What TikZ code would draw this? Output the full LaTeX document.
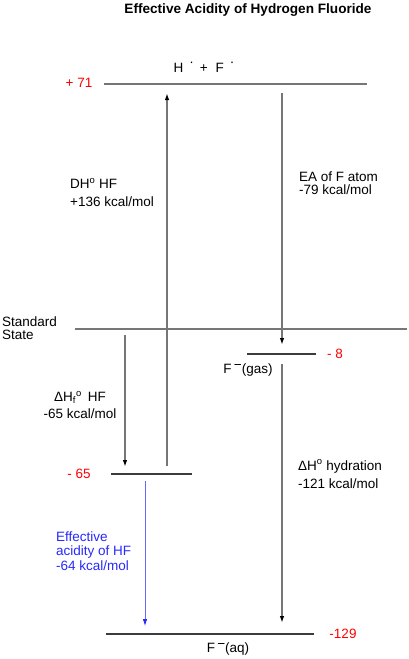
\documentclass[tikz,border=0pt]{standalone}
\usepackage{fontspec}
\setmainfont{Liberation Sans}
\usetikzlibrary{arrows.meta}
\definecolor{lvlgray}{RGB}{118,118,118}
\definecolor{lvldark}{RGB}{60,60,60}
\definecolor{effblue}{RGB}{40,40,255}

\begin{document}
\begin{tikzpicture}[x=1pt,y=-1pt,
  font=\fontsize{13.5}{15}\selectfont,
  biglevel/.style={draw=lvlgray,line width=1.8pt},
  level/.style={draw=lvldark,line width=1.1pt},
  arr/.style={-{Latex[length=7pt,width=4.5pt,black]},line width=1.4pt,draw=lvlgray},
  effarr/.style={-{Latex[length=7pt,width=4.5pt,effblue]},line width=0.8pt,draw=effblue!70},
  energy/.style={text=red},
  lbl/.style={align=left,anchor=west,inner sep=0pt}
]
\useasboundingbox (0,0) rectangle (409,659);

\node[font=\fontsize{13.6}{15}\selectfont\bfseries] (title) at (248,10) {Effective Acidity of Hydrogen Fluoride};

\coordinate (topL) at (104,84);   \coordinate (topR) at (367,84);
\coordinate (stdL) at (75,329);   \coordinate (stdR) at (407,329);
\coordinate (gasL) at (247,354);  \coordinate (gasR) at (316,354);
\coordinate (hfL) at (111,474);   \coordinate (hfR) at (192,474);
\coordinate (aqL) at (106,634);   \coordinate (aqR) at (314,634);

\draw[biglevel] (topL) -- (topR);
\draw[biglevel] (stdL) -- (stdR);
\draw[level] (gasL) -- (gasR);
\draw[level] (hfL) -- (hfR);
\draw[level] (aqL) -- (aqR);

\node (atoms) at (204,67) {H\hspace{6pt}\raisebox{6pt}{·}\hspace{6pt}+\hspace{8pt}F\hspace{6pt}\raisebox{6pt}{·}};
\node (gas) at (248,370) {F\,\raisebox{4pt}{−}(gas)};
\node (aq) at (228,649) {F\,\raisebox{4pt}{−}(aq)};
\node[lbl] (std) at (2,328) {Standard\\[-2pt]State};

\node[energy] (e71) at (79,83) {+ 71};
\node[energy] (e8) at (335,354) {- 8};
\node[energy] (e65) at (79,474) {- 65};
\node[energy] (e129) at (343,634) {-129};

\coordinate (dhS) at (167,466);  \coordinate (dhE) at (167,93);
\coordinate (eaS) at (282,93);   \coordinate (eaE) at (282,345);
\coordinate (hfS) at (125,335);  \coordinate (hfE) at (125,467);
\coordinate (hyS) at (282,364);  \coordinate (hyE) at (282,623);
\coordinate (efS) at (145,481);  \coordinate (efE) at (145,626);

\draw[arr] (dhS) -- (dhE);
\draw[arr] (eaS) -- (eaE);
\draw[arr] (hfS) -- (hfE);
\draw[arr] (hyS) -- (hyE);
\draw[effarr] (efS) -- (efE);

\node[lbl] (dhlbl) at (70,192.5) {DH\textsuperscript{o} HF\\[3pt]+136 kcal/mol};
\node[lbl] (ealbl) at (299,183.5) {EA of F atom\\[-2pt]-79 kcal/mol};
\node[align=center,inner sep=0pt] (hflbl) at (80,405) {ΔH\textsubscript{f}\textsuperscript{o}\,\ HF\\[2pt]-65 kcal/mol};
\node[lbl] (hylbl) at (298,474) {ΔH\textsuperscript{o} hydration\\[3pt]-121 kcal/mol};
\node[lbl,text=effblue] (eflbl) at (56,551) {Effective\\[-0.5pt]acidity of HF\\[-0.5pt]-64 kcal/mol};
\end{tikzpicture}
\end{document}
